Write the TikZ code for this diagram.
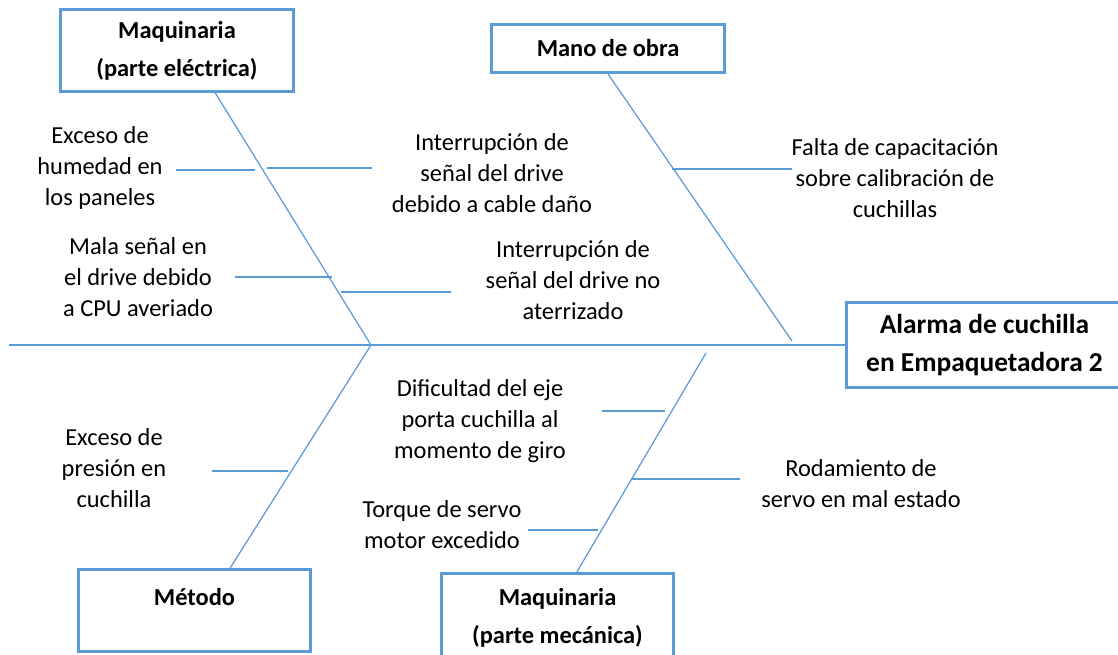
\documentclass[tikz,border=0pt]{standalone}
\usepackage{fontspec}
\setmainfont{Carlito}
\usepackage{tikz}
\usetikzlibrary{positioning}
\definecolor{bonecol}{HTML}{5B9BD5}

\begin{document}
\begin{tikzpicture}[
 x=0.02cm,y=-0.02cm,
 cat/.style={draw=bonecol,line width=0.06cm,inner sep=0pt,align=center,
 font=\fontsize{13.9}{21.6}\selectfont\bfseries},
 cause/.style={align=center,inner sep=0pt,font=\fontsize{13.9}{17.6}\selectfont},
 bone/.style={draw=bonecol,line width=0.7pt}]
\clip (0,0) rectangle (1118,655);
% categories and effect
\node[cat,minimum width=4.66cm,minimum height=1.64cm] (elec) at (177,50.5) {Maquinaria\\(parte eléctrica)};
\node[cat,minimum width=4.66cm,minimum height=0.96cm] (mano) at (608,48.5) {Mano de obra};
\node[cat,minimum width=6.2cm,minimum height=1.7cm,
 font=\fontsize{15.6}{21.6}\selectfont\bfseries] (alarma) at (1001.5,345)
 {Alarma de cuchilla\rule{0.68cm}{0pt}\\en Empaquetadora 2\rule{0.68cm}{0pt}};
\node[cat,minimum width=4.64cm,minimum height=1.64cm,text height=0.35cm,text depth=0.55cm] (metodo) at (194.5,610.5) {Método};
\node[cat,minimum width=4.64cm,minimum height=1.76cm] (mecanica) at (557.5,617.5) {Maquinaria\\(parte mecánica)};
% causes
\node[cause] (hum) at (100,168) {Exceso de\\humedad en\\los paneles};
\node[cause] (cpu) at (138,277) {Mala señal en\\el drive debido\\a CPU averiado};
\node[cause] (cable) at (492,173) {Interrupción de\\señal del drive\\debido a cable daño};
\node[cause] (aterr) at (573,280) {Interrupción de\\señal del drive no\\aterrizado};
\node[cause] (falta) at (895,178) {Falta de capacitación\\sobre calibración de\\cuchillas};
\node[cause] (presion) at (114,468) {Exceso de\\presión en\\cuchilla};
\node[cause] (dific) at (480,421) {Dificultad del eje\\porta cuchilla al\\momento de giro};
\node[cause] (torque) at (442,525) {Torque de servo\\motor excedido};
\node[cause] (roda) at (861,484) {Rodamiento de\\servo en mal estado};
% spine and bones
\coordinate (tail) at (9,345);
\coordinate (j1) at (371,345);
\coordinate (m1) at (792,341);
\coordinate (m2) at (706,353);
\draw[bone] (tail)--(alarma.west);
\draw[bone] (elec.-48)--(j1)--(metodo.50);
\draw[bone] (mano.south)--(m1);
\draw[bone] (mecanica.67)--(m2);
% sub-bones
\foreach \n/\xa/\xb/\y in {hum/176/255/170,cable/267/372/168,cpu/235/332/277,aterr/341/451/292,
 falta/672/792/169,presion/212/288/471,dific/602/665/411,roda/631/740/479,torque/528/598/530}
 {\coordinate (\n-a) at (\xa,\y);
 \coordinate (\n-b) at (\xb,\y);
 \draw[bone] (\n-a)--(\n-b);}
\end{tikzpicture}
\end{document}
